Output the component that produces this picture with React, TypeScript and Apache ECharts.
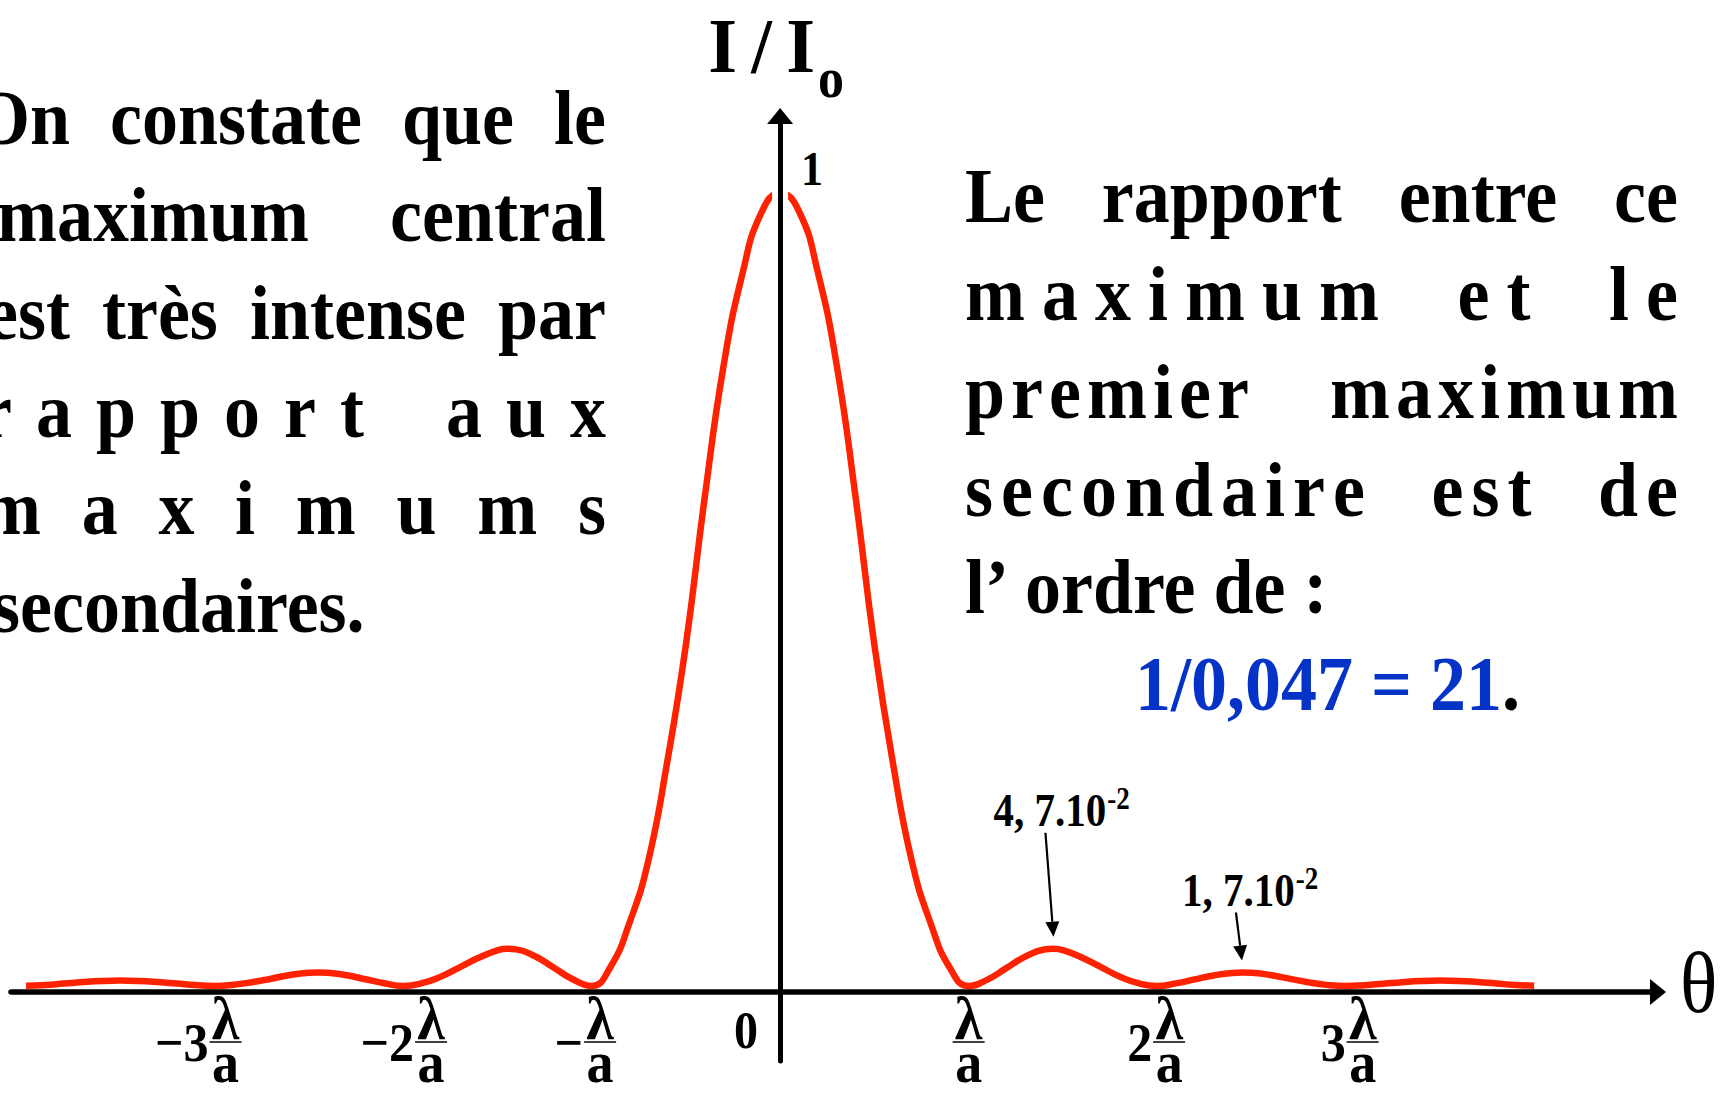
import React, { useEffect, useRef } from "react";
import * as echarts from "echarts";

// Diffraction by a slit: relative intensity I/I0 against θ (in units of λ/a)
const theta = [
  -4, -3.9, -3.8, -3.7, -3.6, -3.5, -3.4, -3.3, -3.2, -3.1,
  -3, -2.9, -2.8, -2.7, -2.6, -2.5, -2.45, -2.4, -2.3, -2.2, -2.1,
  -2, -1.9, -1.8, -1.7, -1.6, -1.5, -1.45, -1.4, -1.3, -1.2, -1.1,
  -1, -0.9, -0.8, -0.7, -0.6, -0.5, -0.4, -0.3, -0.2, -0.1,
  0,
  0.1, 0.2, 0.3, 0.4, 0.5, 0.6, 0.7, 0.8, 0.9,
  1, 1.1, 1.2, 1.3, 1.4, 1.45, 1.5, 1.6, 1.7, 1.8, 1.9,
  2, 2.1, 2.2, 2.3, 2.4, 2.45, 2.5, 2.6, 2.7, 2.8, 2.9,
  3, 3.1, 3.2, 3.3, 3.4, 3.5, 3.6, 3.7, 3.8, 3.9, 4,
];
const intensity = [
  0.0004, 0.0012, 0.003, 0.0049, 0.0063, 0.0068, 0.0063, 0.0049, 0.003, 0.0011,
  0, 0.0015, 0.0048, 0.0092, 0.0138, 0.0166, 0.017, 0.0166, 0.0135, 0.0085, 0.0035,
  0, 0.0035, 0.0118, 0.0235, 0.0355, 0.0448, 0.047, 0.0462, 0.0375, 0.023, 0.0085,
  0, 0.024, 0.079, 0.157, 0.281, 0.43, 0.616, 0.782, 0.898, 0.975,
  1,
  0.977, 0.9, 0.783, 0.617, 0.43, 0.279, 0.156, 0.078, 0.023,
  0, 0.008, 0.0225, 0.037, 0.046, 0.047, 0.0452, 0.036, 0.024, 0.012, 0.0035,
  0, 0.0033, 0.0083, 0.0133, 0.0165, 0.017, 0.0167, 0.0138, 0.0093, 0.0048, 0.0014,
  0, 0.001, 0.0028, 0.0047, 0.0062, 0.0068, 0.0064, 0.005, 0.0031, 0.0013, 0.0004,
];

// Tick marks on the θ axis: multiples of λ/a
const tickValues = [-3, -2, -1, 1, 2, 3];
const tickCoefs = ["−3", "−2", "−", "", "2", "3"];

// Annotated secondary maxima
const peakThetas = [1.45, 2.45];
const peakValues = [0.047, 0.017];
const peakMantissas = ["4, 7.10", "1, 7.10"];
const peakExponents = ["-2", "-2"];

const titleParts = ["I", "/", "I"];
const titleSub = "o";
const axisName = "θ";
const topLabel = "1";
const originLabel = "0";

const leftLines = [
  "On constate que le",
  "maximum central",
  "est très intense par",
  "rapport aux",
  "maximums",
  "secondaires.",
];
const rightLines = [
  "Le rapport entre ce",
  "maximum et le",
  "premier maximum",
  "secondaire est de",
];
const closingLead = "l’";
const closingRest = "ordre de :";
const ratioText = "1/0,047 = 21";
const ratioEnd = ".";

// ---- layout / style ----
const FONT = '"Liberation Serif", "Times New Roman", serif';
const SY = 1.1; // glyphs are drawn slightly taller than wide
const CENTRAL = 0.3375; // distance of the SVG central baseline above the alphabetic one (em)
const BODY = 72;
const RED = "#FF2200";
const BLUE = "#0533C8";

// per-line letter spacing: 0 = words only, number = extra px between letters, "fill" = spread letters, null = ragged last line
const leftSpacing: (number | "fill" | null)[] = [0, 0, 0, 24, "fill", null];
const leftStart = [-26, -3, -14, -20, -19, -8];
const leftRight = 606;
const leftBaseline0 = 143.7;
const rightSpacing: (number | "fill" | null)[] = [0, 17, 6, 8];
const rightStart = 965;
const rightRight = 1678;
const rightBaseline0 = 222.5;
const lineStep = 97.7;
const fracShift = [11, 28, 8.5, 0, 12, 17];

const measureCtx = document.createElement("canvas").getContext("2d") as CanvasRenderingContext2D;
function measure(s: string, size: number, bold = true) {
  measureCtx.font = `${bold ? "bold " : ""}${size}px ${FONT}`;
  return measureCtx.measureText(s).width;
}

function textEl(
  x: number,
  baseline: number,
  text: string,
  size: number,
  o: { align?: string; color?: string; bold?: boolean; sy?: number } = {}
) {
  const sy = o.sy ?? SY;
  const align = o.align ?? "left";
  return {
    type: "text",
    x,
    y: baseline - CENTRAL * size * sy,
    scaleY: sy,
    z: 20,
    silent: true,
    style: {
      text,
      fill: o.color ?? "#000",
      fontSize: size,
      fontWeight: o.bold === false ? "normal" : "bold",
      fontFamily: FONT,
      align,
      textAlign: align,
      verticalAlign: "middle",
      textVerticalAlign: "middle",
    },
  };
}

function justifyLine(text: string, spacing: number | "fill" | null, left: number, right: number, baseline: number) {
  const els: any[] = [];
  if (spacing === null) {
    els.push(textEl(left, baseline, text, BODY));
    return els;
  }
  const avail = right - left;
  const words = text.split(" ");
  const charsW = (w: string) => [...w].reduce((s, c) => s + measure(c, BODY), 0);
  let L = 0;
  if (spacing === "fill") {
    const n = [...text.replace(/ /g, "")].length;
    L = (avail - charsW(text.replace(/ /g, ""))) / (n - 1);
  } else {
    L = spacing;
  }
  const wordW = words.map((w) => (L > 0 ? charsW(w) + L * ([...w].length - 1) : measure(w, BODY)));
  const total = wordW.reduce((a, b) => a + b, 0);
  const gap = words.length > 1 ? (avail - total) / (words.length - 1) : 0;
  let x = left;
  words.forEach((w, i) => {
    if (L > 0) {
      let cx = x;
      for (const c of w) {
        els.push(textEl(cx, baseline, c, BODY));
        cx += measure(c, BODY) + L;
      }
    } else {
      els.push(textEl(x, baseline, w, BODY));
    }
    x += wordW[i] + gap;
  });
  return els;
}

function arrow(tail: number[], tip: number[], len: number, half: number) {
  const dx = tip[0] - tail[0];
  const dy = tip[1] - tail[1];
  const d = Math.hypot(dx, dy);
  const ux = dx / d;
  const uy = dy / d;
  const bx = tip[0] - ux * len;
  const by = tip[1] - uy * len;
  return [
    {
      type: "line",
      z: 20,
      silent: true,
      shape: { x1: tail[0], y1: tail[1], x2: bx, y2: by },
      style: { stroke: "#000", lineWidth: 2.2 },
    },
    {
      type: "polygon",
      z: 20,
      silent: true,
      shape: {
        points: [
          [tip[0], tip[1]],
          [bx - uy * half, by + ux * half],
          [bx + uy * half, by - ux * half],
        ],
      },
      style: { fill: "#000" },
    },
  ];
}

export default function App() {
  const ref = useRef<HTMLDivElement>(null);

  useEffect(() => {
    if (!ref.current) return;
    const chart = echarts.init(ref.current, null, { renderer: "svg" });

    const axisArrow = {
      symbol: ["none", "triangle"],
      symbolSize: [26, 16],
    };

    chart.setOption({
      animation: false,
      backgroundColor: "#ffffff",
      grid: { left: 11, right: 75, top: 116, bottom: 37, containLabel: false, outerBoundsMode: "none" },
      xAxis: {
        type: "value",
        position: "bottom",
        min: -4.08,
        max: 4.657,
        offset: -69,
        z: 10,
        axisLine: { show: true, onZero: false, ...axisArrow, lineStyle: { color: "#000", width: 5.5 } },
        axisTick: { show: false },
        axisLabel: { show: false },
        splitLine: { show: false },
      },
      yAxis: {
        type: "value",
        min: -0.0946,
        max: 1.0971,
        z: 10,
        axisLine: { show: true, onZero: true, ...axisArrow, lineStyle: { color: "#000", width: 5 } },
        axisTick: { show: false },
        axisLabel: { show: false },
        splitLine: { show: false },
      },
      series: [
        {
          type: "line",
          data: theta.map((t, i) => [t, intensity[i]]),
          smooth: true,
          symbol: "none",
          showSymbol: false,
          z: 2,
          lineStyle: { color: RED, width: 6.5 },
        },
      ],
    });

    const px = (x: number, y: number) => chart.convertToPixel({ gridIndex: 0 }, [x, y]) as number[];
    const origin = px(0, 0);
    const axisX = origin[0];
    const axisY = origin[1] + 6; // θ axis line sits just under the zero level
    const top = px(0, 1);

    const els: any[] = [];

    // white gap around the vertical axis where the curve crosses it
    els.push({
      type: "line",
      z: 5,
      silent: true,
      shape: { x1: axisX, y1: top[1] - 12, x2: axisX, y2: top[1] + 45 },
      style: { stroke: "#fff", lineWidth: 16 },
    });

    // axis titles
    const tL = axisX - 77;
    const tSize = 74;
    const tSy = 1.05;
    els.push({
      type: "text",
      x: tL,
      y: 72 - CENTRAL * tSize * tSy,
      scaleY: tSy,
      z: 20,
      silent: true,
      style: {
        text: titleParts.map((p, i) => `{${i === 1 ? "s" : "a"}|${p}}`).join(""),
        fill: "#000",
        fontSize: tSize,
        fontWeight: "bold",
        fontFamily: FONT,
        align: "left",
        textAlign: "left",
        verticalAlign: "middle",
        textVerticalAlign: "middle",
        rich: {
          a: { width: 39, align: "center", fontSize: tSize, fontWeight: "bold", fontFamily: FONT, lineHeight: 66 },
          s: { width: 39, align: "center", fontSize: tSize, fontWeight: "bold", fontFamily: FONT, lineHeight: 66 },
        },
      },
    });
    els.push(textEl(axisX + 38, 97, titleSub, 52));
    els.push(textEl(axisX + 900, axisY + 20, axisName, 78, { bold: false }));

    // value labels on the axes
    els.push(textEl(axisX + 32, top[1] - 24 + CENTRAL * 44 * SY, topLabel, 44, { align: "center" }));
    els.push(textEl(axisX - 34, axisY + 38 + CENTRAL * 48 * SY, originLabel, 48, { align: "center" }));

    // λ/a tick labels
    tickValues.forEach((v, i) => {
      const X = px(v, 0)[0] + fracShift[i];
      els.push(textEl(X, axisY + 47, "λ", 56, { align: "center" }));
      els.push({
        type: "line",
        z: 20,
        silent: true,
        shape: { x1: X - 16, y1: axisY + 50, x2: X + 16, y2: axisY + 50 },
        style: { stroke: "#000", lineWidth: 1.5 },
      });
      els.push(textEl(X, axisY + 90, "a", 54, { align: "center", sy: 1.08 }));
      if (tickCoefs[i]) {
        els.push(textEl(X - 17, axisY + 50 + CENTRAL * 50 * SY, tickCoefs[i], 50, { align: "right" }));
      }
    });

    // secondary maxima annotations
    const tails = [
      [-8, -104],
      [-6, -48],
    ];
    peakThetas.forEach((t, i) => {
      const p = px(t, peakValues[i]);
      const tip = [p[0], p[1] - 12];
      const tail = [tip[0] + tails[i][0], tip[1] + tails[i][1]];
      els.push(...arrow(tail, tip, 15, 7));
      const cy = tail[1] - 22;
      const left = tip[0] - 60;
      const sy = 1.15;
      els.push(textEl(left, cy + CENTRAL * 41 * sy, peakMantissas[i], 41, { sy }));
      const w = measure(peakMantissas[i], 41);
      els.push(textEl(left + w + 1, cy - 12 + CENTRAL * 27 * sy, peakExponents[i], 27, { sy }));
    });

    // explanatory paragraphs
    leftLines.forEach((line, i) => {
      els.push(...justifyLine(line, leftSpacing[i], leftStart[i], leftRight, leftBaseline0 + i * lineStep));
    });
    rightLines.forEach((line, i) => {
      els.push(...justifyLine(line, rightSpacing[i], rightStart, rightRight, rightBaseline0 + i * lineStep));
    });
    const closingBase = rightBaseline0 + rightLines.length * lineStep;
    els.push(textEl(rightStart, closingBase, closingLead, BODY));
    els.push(textEl(rightStart + measure(closingLead, BODY) + 16, closingBase, closingRest, BODY));

    const ratioBase = closingBase + lineStep - 0.5;
    const ratioLeft = 1135;
    els.push(textEl(ratioLeft, ratioBase, ratioText, BODY, { color: BLUE }));
    els.push(textEl(ratioLeft + measure(ratioText, BODY), ratioBase, ratioEnd, BODY));

    chart.setOption({ graphic: { elements: els } });

    return () => chart.dispose();
  }, []);

  return (
    <div
      ref={ref}
      style={{ position: "absolute", left: 0, top: 0, width: 1733, height: 1098, background: "#fff" }}
    />
  );
}
